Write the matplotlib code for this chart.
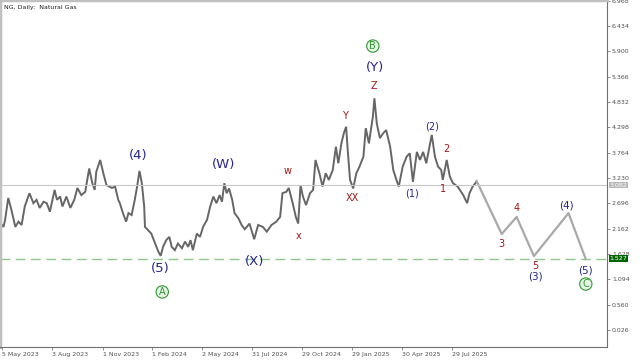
import matplotlib.pyplot as plt
import numpy as np

bars = [0, 2, 4, 8, 12, 17, 21, 25, 29, 35, 40, 44, 48, 53, 57, 61, 67, 70, 74, 77,
        82, 87, 92, 96, 101, 106, 111, 115, 118, 120, 125, 129, 133, 140, 144, 148, 150,
        154, 158, 161, 165, 169, 172, 175, 178, 181, 182, 186, 190, 195, 199, 202, 205,
        209, 213, 216, 220, 224, 229, 233, 237, 240, 243, 248, 252, 256, 261, 265, 269,
        273, 277, 280, 283, 286, 289, 293, 296, 301, 305, 309, 315, 321, 326, 332, 337,
        343, 349, 354, 357, 362, 365, 370, 374, 377, 380, 383, 387, 392, 396, 399, 404,
        408, 412, 416, 421, 425, 428, 432, 435, 438, 440, 443, 447, 451, 455, 460, 463,
        467, 472, 474, 477, 481, 485, 489, 494, 498, 502, 505, 510, 515, 519, 523, 528,
        532, 536, 540, 544, 547, 551, 555, 559, 561, 566, 570, 574, 580, 587, 592, 595,
        599, 604]
close = [2.24, 2.20, 2.35, 2.81, 2.56, 2.20, 2.31, 2.24, 2.63, 2.91, 2.70, 2.77, 2.60,
         2.73, 2.70, 2.52, 2.98, 2.77, 2.84, 2.63, 2.84, 2.60, 2.77, 3.02, 2.87, 2.94,
         3.43, 3.12, 2.98, 3.36, 3.61, 3.33, 3.08, 3.02, 3.05, 2.77, 2.70, 2.49, 2.31,
         2.49, 2.45, 2.77, 3.05, 3.38, 3.12, 2.63, 2.20, 2.13, 2.06, 1.85, 1.68, 1.59,
         1.78, 1.92, 1.99, 1.78, 1.71, 1.85, 1.75, 1.89, 1.78, 1.92, 1.71, 2.06, 1.99,
         2.20, 2.35, 2.63, 2.84, 2.70, 2.87, 2.73, 3.12, 2.91, 3.01, 2.77, 2.49, 2.38,
         2.24, 2.15, 2.27, 1.94, 2.24, 2.20, 2.10, 2.24, 2.31, 2.41, 2.91, 2.94, 3.02,
         2.70, 2.41, 2.27, 3.08, 2.84, 2.66, 2.91, 2.98, 3.61, 3.33, 3.05, 3.33, 3.19,
         3.40, 3.89, 3.54, 3.96, 4.17, 4.31, 3.82, 3.19, 3.01, 3.33, 3.47, 3.68, 4.28,
         3.96, 4.52, 4.91, 4.38, 4.07, 4.17, 4.24, 3.89, 3.40, 3.19, 3.05, 3.47, 3.68,
         3.75, 3.15, 3.78, 3.61, 3.78, 3.54, 3.89, 4.14, 3.68, 3.47, 3.40, 3.19, 3.61,
         3.26, 3.12, 3.05, 2.87, 2.70, 2.91, 3.05, 3.15]

# forecast path
fc_bars = [604, 636, 655, 677, 721, 743]
fc_price = [3.17, 2.05, 2.41, 1.585, 2.49, 1.52]

last_price = 3.082
level = 1.527

date_ticks = [0, 64, 128, 191, 255, 318, 382, 446, 509, 573]
date_labels = ['5 May 2023', '3 Aug 2023', '1 Nov 2023', '1 Feb 2024', '2 May 2024',
               '31 Jul 2024', '29 Oct 2024', '29 Jan 2025', '30 Apr 2025', '29 Jul 2025']
price_ticks = [6.968, 6.434, 5.900, 5.366, 4.832, 4.298, 3.764, 3.230, 2.696,
               2.162, 1.628, 1.094, 0.560, 0.026]

BLUE = '#25258f'
RED = '#a01818'
GREEN = '#2f9a2f'

# (text, bar, price, colour, size)
wave_labels = [
    ('(4)', 174, 3.71, BLUE, 9.5), ('(5)', 202, 1.33, BLUE, 9.5),
    ('(W)', 282, 3.51, BLUE, 9.5), ('(X)', 322, 1.48, BLUE, 9.5),
    ('w', 364, 3.38, RED, 7), ('x', 377, 2.01, RED, 7),
    ('Y', 436, 4.54, RED, 7), ('XX', 446, 2.81, RED, 7),
    ('Z', 474, 5.17, RED, 7), ('(Y)', 475, 5.55, BLUE, 9.5),
    ('(1)', 522, 2.91, BLUE, 7), ('(2)', 547, 4.31, BLUE, 7),
    ('1', 561, 3.00, RED, 7), ('2', 566, 3.84, RED, 7),
    ('3', 636, 1.85, RED, 7), ('4', 655, 2.60, RED, 7),
    ('5', 679, 1.376, RED, 7), ('(3)', 679, 1.165, BLUE, 7.5),
    ('(4)', 719, 2.65, BLUE, 7.5), ('(5)', 743, 1.29, BLUE, 7.5),
]
circled = [('A', 204, 0.83), ('B', 472, 6.01), ('C', 743, 0.997)]

fig = plt.figure(figsize=(6.4, 3.64), dpi=100)
ax = fig.add_axes([0.0, 17 / 364, 607 / 640, 347 / 364])

ax.plot(bars, close, color='#666666', lw=1.4, solid_joinstyle='miter')
ax.plot(fc_bars, fc_price, color='#a8a8a8', lw=1.6)
ax.axhline(last_price, color='#c8c8c8', lw=0.8)
ax.axhline(level, color='#8cc88c', lw=1.0, dashes=(7, 4))

for t, bx, py, c, s in wave_labels:
    ax.text(bx, py, t, color=c, fontsize=s, ha='center', va='center')
for t, bx, py in circled:
    ax.text(bx, py, t, color=GREEN, fontsize=7, ha='center', va='center',
            bbox=dict(boxstyle='circle,pad=0.12', fc='#e8f5e8', ec=GREEN, lw=0.8))

ax.set_xlim(-2.5, 770)
ax.set_ylim(-0.33, 6.98)

ax.yaxis.tick_right()
ax.set_yticks(price_ticks)
ax.set_yticklabels(['%.3f' % v for v in price_ticks], fontsize=4.5, color='#505050')
ax.set_xticks(date_ticks)
ax.set_xticklabels(date_labels, fontsize=4.5, color='#505050', ha='left')
ax.tick_params(axis='both', length=2, width=0.5, color='#606060', pad=1.5)

for s in ['top', 'left']:
    ax.spines[s].set_color('#c0c0c0')
    ax.spines[s].set_linewidth(2.5)
for s in ['right', 'bottom']:
    ax.spines[s].set_color('#707070')
    ax.spines[s].set_linewidth(0.8)

ax.text(0.006, 0.985, 'NG, Daily:  Natural Gas', transform=ax.transAxes,
        fontsize=4.5, color='#202020', va='top', ha='left')

# price boxes on the right scale
ax.annotate('%.3f' % last_price, xy=(1.0, last_price), xycoords=('axes fraction', 'data'),
            xytext=(2, 0), textcoords='offset points', fontsize=4.5, color='white',
            va='center', ha='left', bbox=dict(boxstyle='square,pad=0.15', fc='#b8b8b8', ec='none'))
ax.annotate('%.3f' % level, xy=(1.0, level), xycoords=('axes fraction', 'data'),
            xytext=(2, 0), textcoords='offset points', fontsize=4.5, color='white',
            va='center', ha='left', bbox=dict(boxstyle='square,pad=0.15', fc='#006400', ec='none'))

fig.savefig('out.png', dpi=100)
